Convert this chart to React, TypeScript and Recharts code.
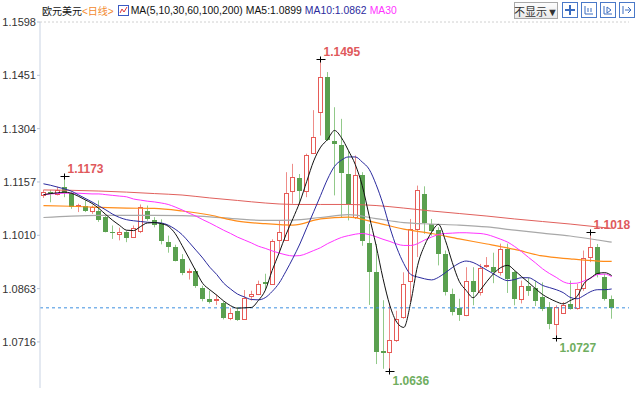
import React from "react"
import { ComposedChart, Bar, Line, XAxis, YAxis, ReferenceLine } from "recharts"

// daily EUR/USD candles
const opens = [1.1120,1.1129,1.1124,1.1144,1.1127,1.1092,1.1090,1.1078,1.1078,1.1060,
  1.1020,1.1014,1.1018,1.1005,1.1022,1.1078,1.1052,1.1041,1.0991,1.0977,
  1.0945,1.0909,1.0911,1.0865,1.0835,1.0831,1.0823,1.0781,1.0800,1.0779,
  1.0842,1.0849,1.0881,1.0876,1.0997,1.0997,1.1131,1.1168,1.1133,1.1237,
  1.1350,1.1445,1.1271,1.1260,1.1179,1.1060,1.1175,1.0990,1.0908,1.0690,
  1.0688,1.0720,1.0784,1.0885,1.1028,1.1124,1.1041,1.1025,1.0959,1.0849,
  1.0809,1.0789,1.0885,1.0853,1.0925,1.0923,1.0908,1.0973,1.0908,1.0835,
  1.0869,1.0866,1.0840,1.0812,1.0766,1.0796,1.0821,1.0810,1.0865,1.0951,
  1.0977,1.0896,1.0835]
const highs = [1.1135,1.1135,1.1144,1.1173,1.1131,1.1097,1.1106,1.1092,1.1106,1.1065,
  1.1037,1.1031,1.1023,1.1037,1.1095,1.1092,1.1060,1.1054,1.1009,1.0984,
  1.0958,1.0918,1.0918,1.0871,1.0858,1.0847,1.0828,1.0810,1.0812,1.0859,
  1.0857,1.0885,1.0904,1.0999,1.1050,1.1184,1.1207,1.1179,1.1235,1.1355,
  1.1495,1.1460,1.1363,1.1331,1.1244,1.1230,1.1184,1.1041,1.0986,1.0831,
  1.0822,1.0802,1.0908,1.1055,1.1147,1.1145,1.1055,1.1032,1.0968,1.0863,
  1.0835,1.0922,1.0922,1.0931,1.0950,1.0962,1.0987,1.0987,1.0913,1.0885,
  1.0894,1.0885,1.0880,1.0826,1.0817,1.0826,1.0885,1.0876,1.0968,1.1018,
  1.0986,1.0904,1.0844]
const lows = [1.1113,1.1101,1.1120,1.1115,1.1083,1.1074,1.1074,1.1069,1.1047,1.1018,
  1.1000,1.0996,1.0991,1.1003,1.1016,1.1050,1.1032,1.0985,1.0962,1.0938,
  1.0900,1.0888,1.0865,1.0828,1.0822,1.0818,1.0778,1.0776,1.0774,1.0777,
  1.0830,1.0845,1.0858,1.0875,1.0967,1.0996,1.1097,1.1097,1.1115,1.1235,
  1.1285,1.1270,1.1120,1.1060,1.1051,1.1055,1.0981,1.0818,1.0655,1.0642,
  1.0636,1.0716,1.0780,1.0826,1.0950,1.1014,1.1009,1.0927,1.0844,1.0789,
  1.0774,1.0787,1.0817,1.0844,1.0920,1.0878,1.0899,1.0851,1.0817,1.0822,
  1.0843,1.0815,1.0801,1.0751,1.0727,1.0794,1.0805,1.0805,1.0857,1.0936,
  1.0894,1.0830,1.0780]
const closes = [1.1129,1.1123,1.1136,1.1127,1.1087,1.1094,1.1078,1.1087,1.1051,1.1020,
  1.1015,1.1018,1.1003,1.1029,1.1088,1.1055,1.1039,1.0993,1.0977,1.0940,
  1.0905,1.0912,1.0869,1.0835,1.0826,1.0835,1.0781,1.0797,1.0777,1.0838,
  1.0847,1.0876,1.0877,1.0995,1.1018,1.1126,1.1170,1.1133,1.1230,1.1280,
  1.1445,1.1274,1.1263,1.1181,1.1097,1.1175,1.0995,1.0908,1.0688,1.0686,
  1.0720,1.0780,1.0876,1.1028,1.1135,1.1043,1.1023,1.0959,1.0853,1.0798,
  1.0789,1.0885,1.0853,1.0920,1.0927,1.0908,1.0973,1.0890,1.0835,1.0869,
  1.0856,1.0830,1.0808,1.0766,1.0812,1.0818,1.0807,1.0863,1.0948,1.0977,
  1.0902,1.0835,1.0810]

const ma5 = [1.1122,1.1125,1.1127,1.1129,1.1126,1.1118,1.1108,1.1098,1.1084,1.1067,
  1.1051,1.1037,1.1024,1.1023,1.1034,1.1044,1.1045,1.1042,1.1035,1.1015,
  1.0982,1.0947,1.0911,1.0877,1.0860,1.0845,1.0829,1.0816,1.0809,1.0810,
  1.0811,1.0830,1.0858,1.0913,1.0961,1.1012,1.1056,1.1102,1.1159,1.1215,
  1.1253,1.1274,1.1299,1.1279,1.1244,1.1205,1.1147,1.1064,1.0982,1.0891,
  1.0816,1.0770,1.0756,1.0825,1.0927,1.0982,1.1018,1.1040,1.0996,1.0935,
  1.0883,1.0858,1.0838,1.0858,1.0883,1.0905,1.0921,1.0927,1.0913,1.0896,
  1.0880,1.0863,1.0847,1.0836,1.0827,1.0821,1.0830,1.0841,1.0877,1.0893,
  1.0905,1.0907,1.0899]
const ma10 = [1.1152,1.1148,1.1143,1.1138,1.1132,1.1122,1.1112,1.1102,1.1091,1.1080,
  1.1068,1.1059,1.1053,1.1050,1.1048,1.1046,1.1045,1.1044,1.1038,1.1027,
  1.1012,1.0991,1.0969,1.0947,1.0922,1.0902,1.0878,1.0862,1.0848,1.0840,
  1.0833,1.0832,1.0838,1.0855,1.0878,1.0911,1.0947,1.0986,1.1031,1.1075,
  1.1120,1.1165,1.1200,1.1217,1.1226,1.1226,1.1212,1.1192,1.1150,1.1096,
  1.1031,1.0975,1.0932,1.0902,1.0895,1.0890,1.0887,1.0894,1.0907,1.0921,
  1.0933,1.0939,1.0935,1.0925,1.0914,1.0903,1.0892,1.0885,1.0888,1.0893,
  1.0893,1.0884,1.0872,1.0866,1.0860,1.0852,1.0839,1.0835,1.0844,1.0855,
  1.0860,1.0860,1.0862]
const ma30 = [1.1122,1.1124,1.1125,1.1126,1.1126,1.1126,1.1125,1.1124,1.1124,1.1122,
  1.1120,1.1118,1.1116,1.1110,1.1107,1.1104,1.1102,1.1099,1.1095,1.1088,
  1.1080,1.1071,1.1063,1.1053,1.1044,1.1034,1.1024,1.1015,1.1005,1.0997,
  1.0989,1.0980,1.0974,1.0967,1.0961,1.0956,1.0953,1.0954,1.0960,1.0968,
  1.0976,1.0987,1.0996,1.1004,1.1009,1.1013,1.1015,1.1012,1.1006,1.0999,
  1.0993,1.0986,1.0982,1.0982,1.0987,1.0997,1.1005,1.1012,1.1015,1.1016,
  1.1017,1.1017,1.1016,1.1015,1.1012,1.1006,1.0999,1.0991,1.0979,1.0965,
  1.0949,1.0934,1.0918,1.0905,1.0894,1.0882,1.0877,1.0878,1.0884,1.0892,
  1.0902,1.0903,1.0896]

// slow averages, read at every 4th day
const slowIdx = [0,4,8,12,16,20,24,28,32,36,40,44,48,52,56,60,64,68,72,76,80,82]
const ma60 = [1.1092,1.1090,1.1087,1.1085,1.1084,1.1077,1.1066,1.1049,1.1042,1.1038,1.1055,
  1.1060,1.1045,1.1027,1.1015,1.1000,1.0986,1.0971,1.0953,1.0945,1.0939,1.0938]
const ma100 = [1.1059,1.1063,1.1065,1.1065,1.1065,1.1064,1.1061,1.1055,1.1051,1.1052,1.1059,
  1.1067,1.1056,1.1045,1.1041,1.1038,1.1033,1.1024,1.1016,1.1008,1.0997,1.0991]
const ma200 = [1.1135,1.1134,1.1132,1.1129,1.1125,1.1121,1.1113,1.1106,1.1099,1.1095,1.1095,
  1.1095,1.1092,1.1085,1.1077,1.1070,1.1063,1.1055,1.1048,1.1041,1.1033,1.1029]

const yTicks = [1.1598, 1.1451, 1.1304, 1.1157, 1.1010, 1.0863, 1.0716]
const lastPrice = 1.0810
const extremes = [
  { i: 3, side: "high", text: "1.1173" },
  { i: 40, side: "high", text: "1.1495" },
  { i: 50, side: "low", text: "1.0636" },
  { i: 74, side: "low", text: "1.0727" },
  { i: 79, side: "high", text: "1.1018" },
]
const emptySlots = 2

const UP = "#e65b57"
const UP_WICK = "#ee8d89"
const DOWN = "#5aa04f"
const DOWN_WICK = "#92c98a"
const FONT = '"Liberation Sans", Arial, "Noto Sans CJK SC", sans-serif'

const rows = Array.from({ length: opens.length + emptySlots }, (_, i) => {
  if (i >= opens.length) return { i }
  const k = slowIdx.indexOf(i)
  const ex = extremes.find((e) => e.i === i)
  return {
    i,
    open: opens[i], high: highs[i], low: lows[i], close: closes[i],
    range: [lows[i], highs[i]],
    ma5: ma5[i], ma10: ma10[i], ma30: ma30[i],
    ma60: k >= 0 ? ma60[k] : null,
    ma100: k >= 0 ? ma100[k] : null,
    ma200: k >= 0 ? ma200[k] : null,
    ex,
  }
})

function Candle(props: any) {
  const { x, y, width, height, payload } = props
  if (!payload || payload.high == null) return null
  const { open, close, high, low, ex } = payload
  const span = high - low
  const py = (v: number) => y + (span === 0 ? 0 : ((high - v) / span) * height)
  const n = Math.floor(x + width / 2)
  const cx = n + 0.5
  const up = close >= open
  const yTop = py(Math.max(open, close))
  const yBot = py(Math.min(open, close))
  const yHi = y
  const yLo = y + height
  let body
  if (up) {
    const t = Math.round(yTop) + 0.5
    const b = Math.max(Math.round(yBot) + 0.5, t + 1)
    body = (
      <g>
        <line x1={cx} x2={cx} y1={yHi} y2={t} stroke={UP_WICK} />
        <line x1={cx} x2={cx} y1={b} y2={yLo} stroke={UP_WICK} />
        <rect x={n - 1.5} y={t} width={4} height={b - t} fill="#fff" stroke={UP} />
      </g>
    )
  } else {
    const t = Math.round(yTop)
    const b = Math.max(Math.round(yBot), t + 1)
    body = (
      <g>
        <line x1={cx} x2={cx} y1={yHi} y2={yLo} stroke={DOWN_WICK} />
        <rect x={n - 2} y={t} width={5} height={b - t} fill={DOWN} />
      </g>
    )
  }
  let mark = null
  if (ex) {
    const my = Math.round(ex.side === "high" ? yHi : yLo) + 0.5
    mark = (
      <g>
        <line x1={cx - 4} x2={cx + 5} y1={my} y2={my} stroke="#000" />
        <line x1={cx} x2={cx} y1={my - 3} y2={my + 3} stroke="#000" />
        <text
          x={cx + 3}
          y={ex.side === "high" ? my - 4 : my + 13}
          fontSize={12}
          fontWeight="bold"
          fontFamily={FONT}
          fill={ex.side === "high" ? "#e0595c" : "#6fae5f"}
        >
          {ex.text}
        </text>
      </g>
    )
  }
  return (
    <g>
      {body}
      {mark}
    </g>
  )
}

function Header() {
  const n = ma5.length - 1
  return (
    <>
      <div
        style={{
          position: "absolute", left: 42, top: 3, height: 15, display: "flex", alignItems: "center",
          fontSize: 10.4, fontFamily: FONT, color: "#111", whiteSpace: "nowrap",
        }}
      >
        <span style={{ fontSize: 10 }}>欧元美元</span>
        <span style={{ color: "#f28a2e", fontSize: 10 }}>&lt;日线&gt;</span>
        <svg width={11} height={11} style={{ margin: "0 2px 0 4px" }}>
          <rect x={0.5} y={0.5} width={10} height={10} fill="#fff" stroke="#3b5bc4" />
          <polyline points="2,8 4,4 6,7 9,2" fill="none" stroke="#e0393e" />
        </svg>
        <span>MA(5,10,30,60,100,200)</span>
        <span style={{ marginLeft: 3 }}>MA5:{ma5[n].toFixed(4)}</span>
        <span style={{ marginLeft: 3, color: "#2b2b9e" }}>MA10:{ma10[n].toFixed(4)}</span>
        <span style={{ marginLeft: 3, color: "#ff33ff" }}>MA30</span>
      </div>
      <div
        style={{
          position: "absolute", left: 514, top: 2, width: 42, height: 15, border: "1px solid #a9a9a9",
          background: "linear-gradient(#fdfdfd, #e9e9e9)", fontSize: 11, fontFamily: FONT, color: "#333",
          display: "flex", alignItems: "center", justifyContent: "center", whiteSpace: "nowrap",
        }}
      >
        不显示▼
      </div>
      {[562, 581, 600, 619].map((left, k) => (
        <svg key={k} width={16} height={16} style={{ position: "absolute", left, top: 2 }}>
          <rect x={0.5} y={0.5} width={15} height={15} fill="#fff" stroke="#4a79c8" />
          {k === 0 && <path d="M8 3 V13 M3 8 H13" stroke="#3a6cc0" strokeWidth={2} />}
          {k === 1 && <path d="M4 4 V12 H12 M7 6 V10 M10 6 V10" stroke="#3a6cc0" fill="none" />}
          {k === 2 && <path d="M4 4 V12 H12 M7 5 L11 8 L7 11 Z" stroke="#3a6cc0" fill="none" />}
          {k === 3 && <path d="M4 4 V12 M6 8 H12 M9 5 L12 8 L9 11" stroke="#3a6cc0" fill="none" />}
        </svg>
      ))}
    </>
  )
}

export default function App() {
  return (
    <div style={{ position: "absolute", left: 0, top: 0, width: 640, height: 393, background: "#fff" }}>
      <ComposedChart width={640} height={393} data={rows} margin={{ top: 22, right: 11, bottom: 5, left: 0 }}>
        <XAxis dataKey="i" type="category" hide />
        <YAxis
          domain={[1.0589, 1.1598]}
          ticks={yTicks}
          interval={0}
          allowDataOverflow
          width={40}
          tickSize={3}
          tickMargin={1}
          tickFormatter={(v: number) => v.toFixed(4)}
          axisLine={{ stroke: "#c9d3e3" }}
          tickLine={{ stroke: "#b8c4d8" }}
          tick={{ fontSize: 11, fill: "#333", fontFamily: FONT }}
        />
        <ReferenceLine y={1.1598} stroke="#d0d0d0" strokeDasharray="2 2" />
        <ReferenceLine y={lastPrice} stroke="#3d8fe0" strokeDasharray="3 3" />
        <Line dataKey="ma200" type="monotone" stroke="#e0605c" dot={false} strokeWidth={1} connectNulls isAnimationActive={false} />
        <Line dataKey="ma100" type="monotone" stroke="#a8a8a8" dot={false} strokeWidth={1.2} connectNulls isAnimationActive={false} />
        <Line dataKey="ma60" type="monotone" stroke="#ff8c1a" dot={false} strokeWidth={1.2} connectNulls isAnimationActive={false} />
        <Bar dataKey="range" barSize={5} shape={(p: any) => <Candle {...p} />} isAnimationActive={false} />
        <Line dataKey="ma30" type="monotone" stroke="#ff33ff" dot={false} strokeWidth={1} isAnimationActive={false} />
        <Line dataKey="ma10" type="monotone" stroke="#2b2b9e" dot={false} strokeWidth={1} isAnimationActive={false} />
        <Line dataKey="ma5" type="monotone" stroke="#111" dot={false} strokeWidth={1} isAnimationActive={false} />
      </ComposedChart>
      <Header />
    </div>
  )
}
